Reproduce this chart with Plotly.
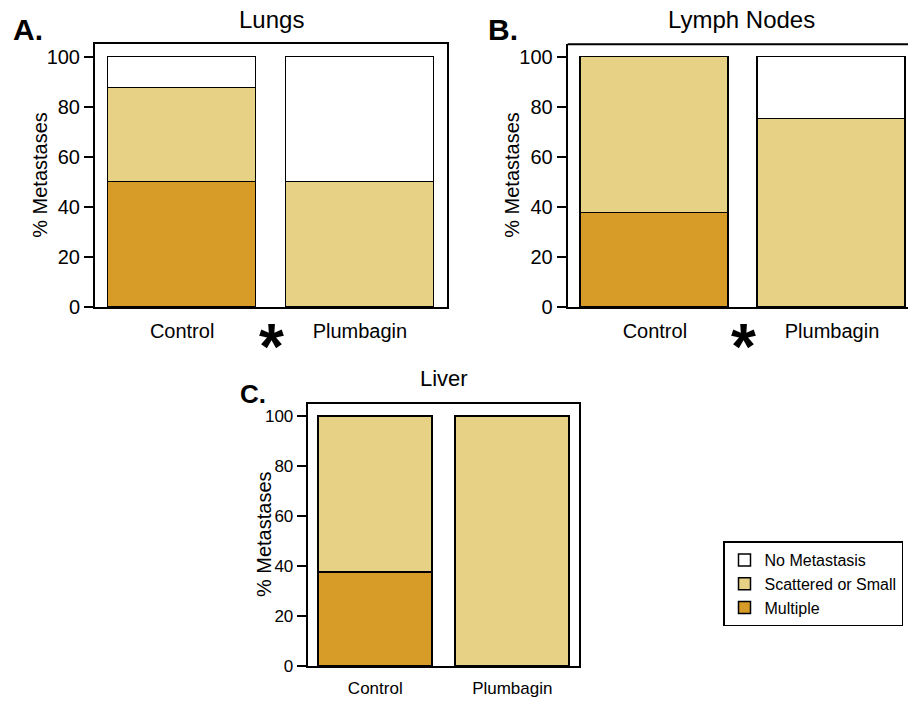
import plotly.graph_objects as go

# ---------------- data ----------------
categories = ["Control", "Plumbagin"]
series_names = ["Multiple", "Scattered or Small", "No Metastasis"]

lungs_multiple = [50, 0]
lungs_scattered = [37.5, 50]
lungs_none = [12.5, 50]

lymph_multiple = [37.5, 0]
lymph_scattered = [62.5, 75]
lymph_none = [0, 25]

liver_multiple = [37.5, 0]
liver_scattered = [62.5, 100]
liver_none = [0, 0]

panel_titles = ["Lungs", "Lymph Nodes", "Liver"]
panel_letters = ["A.", "B.", "C."]
y_title = "% Metastases"
tick_vals = [0, 20, 40, 60, 80, 100]

# ---------------- style ----------------
W, H = 908, 710
FONT = "Liberation Sans, Arial, sans-serif"
colors = {"Multiple": "#D79B27", "Scattered or Small": "#E7D185", "No Metastasis": "#FFFFFF"}

panels = [
    dict(data=[lungs_multiple, lungs_scattered, lungs_none], xa="x", ya="y", width=0.834, legend=False),
    dict(data=[lymph_multiple, lymph_scattered, lymph_none], xa="x2", ya="y2", width=0.834, legend=False),
    dict(data=[liver_multiple, liver_scattered, liver_none], xa="x3", ya="y3", width=0.832, legend=True),
]

fig = go.Figure()
for p in panels:
    for name, vals in zip(series_names, p["data"]):
        fig.add_trace(go.Bar(
            x=categories, y=vals, name=name,
            xaxis=p["xa"], yaxis=p["ya"], width=p["width"],
            marker=dict(color=colors[name], line=dict(color="black", width=1.5)),
            showlegend=p["legend"], legendgroup=name,
        ))

def px_x(px):
    return px / W

def px_y(py):
    return (H - py) / H

axis_common = dict(showgrid=False, zeroline=False, linecolor="black", linewidth=2)
yax_common = dict(axis_common, range=[0, 105], tickvals=tick_vals, ticks="outside",
                  ticklen=9, tickwidth=1.5, tickcolor="black")
xax_common = dict(axis_common, ticks="outside", ticklen=5, tickcolor="rgba(0,0,0,0)")

fig.update_layout(
    width=W, height=H, barmode="stack",
    margin=dict(l=0, r=0, t=0, b=0),
    paper_bgcolor="white", plot_bgcolor="white",
    font=dict(family=FONT, color="black"),
    bargap=0,
    xaxis=dict(xax_common, domain=[px_x(95), px_x(447)], range=[-0.49, 1.49],
               showline=True, mirror=True, anchor="y", tickfont=dict(size=20)),
    yaxis=dict(yax_common, domain=[px_y(312), px_y(45)], anchor="x",
               showline=True, mirror=True, tickfont=dict(size=20)),
    xaxis2=dict(xax_common, domain=[px_x(567.7), 1.0], range=[-0.492, 1.429],
                showline=True, mirror=False, anchor="y2", tickfont=dict(size=20)),
    yaxis2=dict(yax_common, domain=[px_y(312), px_y(45)], anchor="x2",
                showline=True, mirror=False, tickfont=dict(size=20)),
    xaxis3=dict(xax_common, domain=[px_x(307.7), px_x(579.3)], range=[-0.493, 1.489],
                showline=True, mirror=True, anchor="y3", tickfont=dict(size=17)),
    yaxis3=dict(yax_common, domain=[px_y(676.7), px_y(410)], anchor="x3",
                showline=True, mirror=True, tickfont=dict(size=17)),
    legend=dict(x=px_x(723), y=px_y(550), xanchor="left", yanchor="top",
                bordercolor="black", borderwidth=1.5, bgcolor="white",
                traceorder="reversed", font=dict(size=16),
                itemclick=False),
)

# top border for panel B (right side is cut off in the original)
fig.add_shape(type="line", xref="x2 domain", yref="y2 domain", x0=0, x1=1, y0=1, y1=1,
              line=dict(color="black", width=2))

ann = []
# panel titles
ann.append(dict(text=panel_titles[0], x=px_x(271), y=px_y(20), font=dict(size=24)))
ann.append(dict(text=panel_titles[1], x=px_x(741.5), y=px_y(20), font=dict(size=24)))
ann.append(dict(text=panel_titles[2], x=px_x(443.5), y=px_y(384), font=dict(size=22)))
# panel letters
ann.append(dict(text="<b>%s</b>" % panel_letters[0], x=px_x(28), y=px_y(30), font=dict(size=30)))
ann.append(dict(text="<b>%s</b>" % panel_letters[1], x=px_x(503), y=px_y(30), font=dict(size=30)))
ann.append(dict(text="<b>%s</b>" % panel_letters[2], x=px_x(253), y=px_y(400), font=dict(size=26)))
# y titles
ann.append(dict(text=y_title, x=px_x(40), y=px_y(177.5), textangle=-90, font=dict(size=20)))
ann.append(dict(text=y_title, x=px_x(512), y=px_y(177.5), textangle=-90, font=dict(size=20)))
ann.append(dict(text=y_title, x=px_x(264), y=px_y(542.5), textangle=-90, font=dict(size=20)))
for a in ann:
    a.update(xref="paper", yref="paper", showarrow=False, xanchor="center", yanchor="middle")
    fig.add_annotation(**a)

# significance asterisks between bars
for xr in ["x", "x2"]:
    fig.add_annotation(text="<b>*</b>", xref=xr, x=0.5, yref="paper", y=px_y(352),
                       showarrow=False, xanchor="center", yanchor="middle",
                       font=dict(size=64, family=FONT))

fig.write_html("out.html", config={"displayModeBar": False},
               post_script="document.body.style.margin='0';document.body.style.overflow='hidden';")
